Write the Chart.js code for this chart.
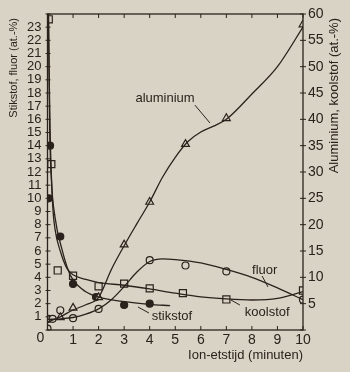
<!DOCTYPE html>
<html>
<head>
<meta charset="utf-8">
<script src="https://cdn.jsdelivr.net/npm/chart.js@4/dist/chart.umd.min.js"></script>
<style>
  html, body { margin: 0; padding: 0; background: #d8d3c5; }
  canvas { display: block; }
</style>
</head>
<body>
<canvas id="etsChart" width="350" height="372"></canvas>
<script>
// meetpunten (tijd in minuten, waarde in at.-%)
const aluTijd = [0.5, 1, 2, 3, 4, 5.4, 7, 10];
const aluWaarde = [2.4, 4.2, 6.2, 16.2, 24.3, 35.3, 40.2, 58];
const fluorTijd = [0, 0.05, 0.2, 0.5, 1, 2, 4, 5.4, 7, 10];
const fluorWaarde = [0.1, 0.85, 0.85, 1.5, 0.9, 1.6, 5.3, 4.9, 4.45, 2.3];
const koolTijd = [0.05, 0.15, 0.4, 1, 2, 3, 4, 5.3, 7, 10];
const koolWaarde = [59, 31.5, 11.3, 10.3, 8.3, 8.8, 7.9, 7.0, 5.8, 7.5];
const stikTijd = [0.05, 0.1, 0.5, 1, 1.9, 3, 4];
const stikWaarde = [10, 14, 7.1, 3.5, 2.5, 1.9, 2.0];

// getekende (gefitte) krommen
const aluCurveTijd = [0, 0.5, 1, 1.5, 2, 2.5, 3, 3.5, 4, 4.5, 5, 5.5, 6, 6.5, 7, 8, 9, 10];
const aluCurveWaarde = [1.5, 2.5, 3.8, 4.8, 6.2, 11.5, 16, 20.2, 24.3, 29, 32.8, 35.8, 37.6, 38.7, 40, 44.8, 50, 57.5];
const fluorCurveTijd = [0, 0.5, 1, 1.5, 2, 2.5, 3, 3.5, 4, 4.5, 5, 6, 7, 8, 9, 10];
const fluorCurveWaarde = [0.8, 0.85, 0.95, 1.2, 1.6, 2.3, 3.3, 4.4, 5.2, 5.4, 5.35, 5.1, 4.6, 4.0, 3.2, 2.3];
const koolCurveTijd = [0.03, 0.1, 0.2, 0.3, 0.5, 0.75, 1, 1.5, 2, 3, 4, 5, 6, 7, 8, 9, 10];
const koolCurveWaarde = [60, 38, 24, 19, 15, 11.8, 10.5, 9.6, 9.0, 8.5, 7.8, 7.0, 6.3, 5.9, 5.7, 6.0, 7.3];
const stikCurveTijd = [0.04, 0.08, 0.15, 0.3, 0.57, 0.8, 1, 1.5, 2, 3, 4, 4.8];
const stikCurveWaarde = [24.5, 16, 11.5, 8.5, 6.1, 4.6, 3.8, 2.9, 2.5, 2.15, 1.95, 1.85];

// labels bij de krommen (in data-coordinaten)
const labelTekst = ['aluminium', 'fluor', 'koolstof', 'stikstof'];
const labelAs = ['y2', 'y', 'y2', 'y'];
const labelX = [4.6, 8.5, 8.6, 4.87];
const labelY = [44, 4.55, 3.4, 1.06];
const lijnX1 = [5.77, 8.4, 7.53, 3.97];
const lijnY1 = [42.7, 4.1, 4.74, 1.29];
const lijnX2 = [6.36, 8.63, 7.18, 3.54];
const lijnY2 = [39.3, 3.27, 5.7, 1.75];

const inkt = '#2a221c';
const papierKleur = '#d8d3c5';
const letter = '"Liberation Sans", Arial, sans-serif';

function punten(tijd, waarde) {
    return tijd.map((t, i) => ({ x: t, y: waarde[i] }));
}

function kromme(tijd, waarde, as) {
    return {
        data: punten(tijd, waarde),
        yAxisID: as,
        borderColor: inkt,
        borderWidth: 1.3,
        pointRadius: 0,
        cubicInterpolationMode: 'monotone',
        fill: false
    };
}

function markers(tijd, waarde, as, stijl, radius, vulling) {
    return {
        data: punten(tijd, waarde),
        yAxisID: as,
        showLine: false,
        pointStyle: stijl,
        pointRadius: radius,
        pointBorderWidth: 1.2,
        pointBorderColor: inkt,
        pointBackgroundColor: vulling
    };
}

const papier = {
    id: 'papier',
    beforeDraw(chart) {
        const ctx = chart.ctx;
        ctx.save();
        ctx.fillStyle = papierKleur;
        ctx.fillRect(0, 0, chart.width, chart.height);
        ctx.restore();
    }
};

const kader = {
    id: 'kader',
    afterDraw(chart) {
        const ctx = chart.ctx;
        const a = chart.chartArea;
        const sx = chart.scales.x, sy = chart.scales.y, sy2 = chart.scales.y2;
        ctx.save();
        ctx.strokeStyle = inkt;
        ctx.lineWidth = 1.3;
        ctx.strokeRect(a.left, a.top, a.right - a.left, a.bottom - a.top);

        // streepjes
        ctx.lineWidth = 1;
        ctx.beginPath();
        for (let t = 0; t <= 10; t++) {
            const px = sx.getPixelForValue(t);
            ctx.moveTo(px, a.bottom); ctx.lineTo(px, a.bottom - 4);
            ctx.moveTo(px, a.top); ctx.lineTo(px, a.top + 4);
        }
        for (let v = 0; v <= 24; v++) {
            const py = sy.getPixelForValue(v);
            ctx.moveTo(a.left - 2, py); ctx.lineTo(a.left + 3, py);
        }
        for (let v = 0; v <= 60; v += 5) {
            const py = sy2.getPixelForValue(v);
            ctx.moveTo(a.right - 3, py); ctx.lineTo(a.right + 3, py);
        }
        ctx.stroke();

        // labels bij de krommen
        ctx.fillStyle = inkt;
        ctx.font = '13px ' + letter;
        ctx.textAlign = 'center';
        ctx.textBaseline = 'middle';
        ctx.beginPath();
        labelTekst.forEach((tekst, i) => {
            const as = chart.scales[labelAs[i]];
            ctx.fillText(tekst, sx.getPixelForValue(labelX[i]), as.getPixelForValue(labelY[i]));
            ctx.moveTo(sx.getPixelForValue(lijnX1[i]), as.getPixelForValue(lijnY1[i]));
            ctx.lineTo(sx.getPixelForValue(lijnX2[i]), as.getPixelForValue(lijnY2[i]));
        });
        ctx.stroke();

        // hoek-nul
        ctx.font = '14px ' + letter;
        ctx.fillText('0', a.left - 7, a.bottom + 8);

        // astitels
        ctx.textAlign = 'right';
        ctx.font = '11px ' + letter;
        ctx.save();
        ctx.translate(14, a.top + 4);
        ctx.rotate(-Math.PI / 2);
        ctx.fillText('Stikstof, fluor (at.-%)', 0, 0);
        ctx.restore();
        ctx.font = '13px ' + letter;
        ctx.save();
        ctx.translate(334, a.top + 4);
        ctx.rotate(-Math.PI / 2);
        ctx.fillText('Aluminium, koolstof (at.-%)', 0, 0);
        ctx.restore();
        ctx.fillText('Ion-etstijd (minuten)', a.right, a.bottom + 25);
        ctx.restore();
    }
};

const tickFont = { family: letter, size: 13 };

const ctx = document.getElementById('etsChart').getContext('2d');
new Chart(ctx, {
    type: 'line',
    data: {
        datasets: [
            kromme(aluCurveTijd, aluCurveWaarde, 'y2'),
            kromme(fluorCurveTijd, fluorCurveWaarde, 'y'),
            kromme(koolCurveTijd, koolCurveWaarde, 'y2'),
            kromme(stikCurveTijd, stikCurveWaarde, 'y'),
            markers(aluTijd, aluWaarde, 'y2', 'triangle', 4.5, papierKleur),
            markers(fluorTijd, fluorWaarde, 'y', 'circle', 3.5, papierKleur),
            markers(koolTijd, koolWaarde, 'y2', 'rect', 5, papierKleur),
            markers(stikTijd, stikWaarde, 'y', 'circle', 3.5, inkt)
        ]
    },
    plugins: [papier, kader],
    options: {
        responsive: false,
        animation: false,
        devicePixelRatio: 1,
        layout: { padding: { top: 14, left: 0, right: 0, bottom: 0 } },
        plugins: { legend: { display: false }, tooltip: { enabled: false } },
        scales: {
            x: {
                type: 'linear',
                min: 0,
                max: 10,
                grid: { display: false, drawTicks: false },
                border: { display: false },
                ticks: {
                    stepSize: 1,
                    autoSkip: false,
                    maxRotation: 0,
                    padding: 2,
                    color: inkt,
                    font: { family: letter, size: 14 },
                    callback: v => v === 0 ? '' : v
                },
                afterFit: s => { s.height = 42; }
            },
            y: {
                position: 'left',
                min: 0,
                max: 24,
                grid: { display: false, drawTicks: false },
                border: { display: false },
                ticks: {
                    stepSize: 1,
                    autoSkip: false,
                    padding: 6,
                    color: inkt,
                    font: tickFont,
                    callback: v => (v === 0 || v === 24) ? '' : v
                },
                afterFit: s => { s.width = 47.5; }
            },
            y2: {
                position: 'right',
                min: 0,
                max: 60,
                grid: { display: false, drawTicks: false },
                border: { display: false },
                ticks: {
                    stepSize: 5,
                    autoSkip: false,
                    padding: 5,
                    color: inkt,
                    font: { family: letter, size: 14 },
                    callback: v => v === 0 ? '' : v
                },
                afterFit: s => { s.width = 47; }
            }
        }
    }
});
</script>
</body>
</html>
